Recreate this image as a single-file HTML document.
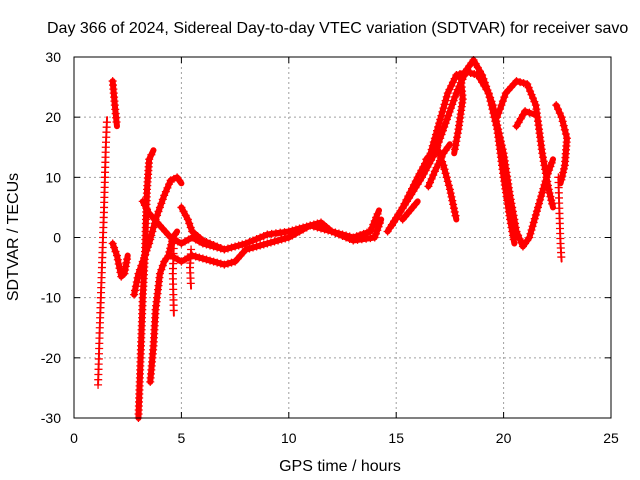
<!DOCTYPE html>
<html><head><meta charset="utf-8"><style>
html,body{margin:0;padding:0;background:#fff;}
svg{display:block;font-family:"Liberation Sans",sans-serif;}
</style></head><body>
<svg id="chart" width="640" height="480" viewBox="0 0 640 480">
<rect width="640" height="480" fill="#fff"/>
<text x="47" y="33" font-size="16" fill="#000">Day 366 of 2024, Sidereal Day-to-day VTEC variation (SDTVAR) for receiver savo</text>
<g id="grid"></g>
<g id="tracks"></g>
<rect x="74" y="57" width="537" height="361" fill="none" stroke="#000" stroke-width="1"/>
<g id="axes"></g>
<text x="340" y="471" font-size="16" text-anchor="middle">GPS time / hours</text>
<text transform="translate(18,237) rotate(-90)" font-size="16" text-anchor="middle">SDTVAR / TECUs</text>
</svg>
<script>
const xTicks=[0,5,10,15,20,25];
const yTicks=[-30,-20,-10,0,10,20,30];
const trackA=[[1.12,-24.5],[1.2,-15],[1.3,-5],[1.4,5],[1.48,15],[1.54,20]];
const trackB=[[1.8,26],[1.9,22],[2.0,18.5]];
const trackC=[[1.8,-1],[2.0,-3],[2.2,-6.5],[2.35,-6],[2.5,-3]];
const trackD=[[3.0,-30],[3.1,-20],[3.2,-10],[3.3,-3],[3.35,3],[3.4,8],[3.5,13],[3.7,14.5]];
const trackE=[[2.8,-9.5],[3.0,-6],[3.2,-4],[3.5,-1],[3.8,3],[4.2,7],[4.5,9.5],[4.8,10],[5.0,9]];
const trackF=[[3.55,-24],[3.7,-18],[3.8,-12],[4.0,-6],[4.2,-4],[4.4,-3],[4.6,0],[4.8,1]];
const trackG=[[3.2,6],[3.5,4],[4.0,2],[4.5,0],[5.0,-1],[5.5,0],[6.0,-1],[6.5,-1.5],[7.0,-2]];
const trackH=[[5.0,5],[5.3,3],[5.5,1],[6.0,-0.5],[7.0,-2],[8.0,-1],[9.0,0.5],[10.0,1],[11.0,2],[12.0,1],[13.0,0],[13.8,1],[14.2,4.5]];
const trackI=[[4.5,-3],[5.0,-4],[5.5,-3],[6.0,-3.5],[7.0,-4.5],[7.5,-4],[8.0,-2],[9.0,-1],[10.0,0],[11.0,2],[11.5,2.5],[12.0,1],[13.0,-0.5],[14.0,0],[14.3,3]];
const trackJ=[[4.65,-1],[4.6,-6],[4.65,-13]];
const trackK=[[5.45,-2],[5.4,-5],[5.45,-8.5]];
const trackR1=[[14.8,2],[15.5,6],[16.2,10],[16.8,14],[17.3,19],[17.8,24],[18.3,28],[18.6,29.5],[19.0,27],[19.5,22],[20.0,14],[20.3,7],[20.6,1],[20.9,-1.5],[21.2,0],[21.6,5],[22.0,10],[22.3,13]];
const trackR2=[[14.6,1],[15.3,5],[16.0,10],[16.6,14],[17.0,19],[17.4,24],[17.8,27],[18.3,27.5],[18.8,27],[19.3,24],[19.7,18],[20.0,10],[20.3,3],[20.5,-1]];
const trackR3=[[19.7,20],[20.1,24],[20.6,26],[21.1,25.5],[21.5,22],[21.8,14],[22.1,8],[22.3,5]];
const trackR4=[[20.6,18.5],[21.0,21],[21.4,20.5]];
const trackR5=[[22.45,22],[22.7,20],[22.95,16.5],[22.85,12],[22.65,9]];
const trackR6=[[22.55,10],[22.6,4],[22.65,-1],[22.7,-4]];
const trackR7=[[16.4,13],[16.9,15],[17.2,12],[17.5,8],[17.8,3]];
const trackR8=[[16.5,8.5],[16.8,11],[17.2,14],[17.5,15.5]];
const trackR9=[[15.3,3],[15.65,4.5],[16.0,6]];
const trackR10=[[18.0,27],[18.1,23],[17.9,18],[17.7,14]];
const tracks=[trackA,trackB,trackC,trackD,trackE,trackF,trackG,trackH,trackI,trackJ,trackK,trackR1,trackR2,trackR3,trackR4,trackR5,trackR6,trackR7,trackR8,trackR9,trackR10];
const thin=[0,9,10,16];
const NS="http://www.w3.org/2000/svg";
const X0=74,X1=611,Y0=418,Y1=57;
function sx(t){return X0+(t-0)/25*(X1-X0);}
function sy(v){return Y0-(v+30)/60*(Y0-Y1);}
const grid=document.getElementById('grid'),axes=document.getElementById('axes'),tg=document.getElementById('tracks');
function mk(tag,attrs,parent){const e=document.createElementNS(NS,tag);for(const k in attrs)e.setAttribute(k,attrs[k]);parent.appendChild(e);return e;}
xTicks.forEach(t=>{
 const x=sx(t);
 if(t>0&&t<25){const g=mk('line',{x1:x,x2:x,y1:Y1,y2:Y0,stroke:'#a0a0a0','stroke-dasharray':'2,3'},grid);
 
 }
 mk('line',{x1:x,x2:x,y1:Y0,y2:Y0-6,stroke:'#000'},axes);
 mk('line',{x1:x,x2:x,y1:Y1,y2:Y1+6,stroke:'#000'},axes);
 const l=mk('text',{x:x,y:443,'font-size':14,'text-anchor':'middle'},axes);l.textContent=t;
 
 
});
yTicks.forEach(v=>{
 const y=sy(v);
 if(v>-30&&v<30){const g=mk('line',{x1:X0,x2:X1,y1:y,y2:y,stroke:'#a0a0a0','stroke-dasharray':'2,3'},grid);
 
 }
 mk('line',{x1:X0,x2:X0+6,y1:y,y2:y,stroke:'#000'},axes);
 mk('line',{x1:X1,x2:X1-6,y1:y,y2:y,stroke:'#000'},axes);
 const l=mk('text',{x:61,y:y+5,'font-size':14,'text-anchor':'end'},axes);l.textContent=v;
 
 
});
tracks.forEach((tr,i)=>{
 const pts=tr.map(p=>[sx(p[0]),sy(p[1])]);
 const isThin=thin.includes(i);
 const pl=mk('polyline',{points:pts.map(p=>p.join(',')).join(' '),fill:'none',stroke:'#ff0000','stroke-width':isThin?2:6,'stroke-linejoin':'round','stroke-linecap':'round'},tg);
 
 
 let d='';
 for(let k=0;k<pts.length-1;k++){
  const [ax,ay]=pts[k],[bx,by]=pts[k+1];
  const L=Math.hypot(bx-ax,by-ay),n=Math.max(1,Math.round(L/(isThin?5:4)));
  for(let j=0;j<n;j++){const x=ax+(bx-ax)*j/n,y=ay+(by-ay)*j/n;d+=`M${x-4},${y}h8M${x},${y-4}v8`;}
 }
 const m=mk('path',{d:d,stroke:'#ff0000','stroke-width':1.3,fill:'none'},tg);
 
 
});
</script>
</body></html>
